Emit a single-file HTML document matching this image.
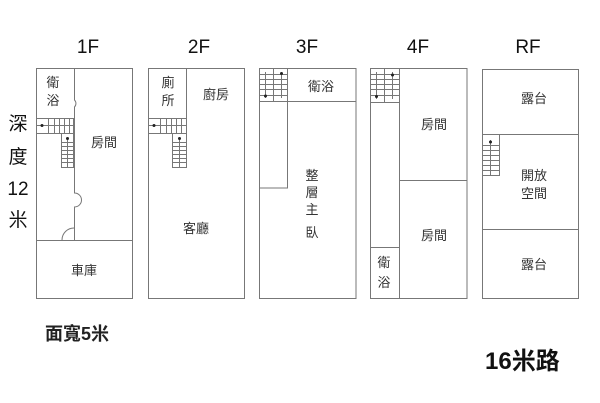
<!DOCTYPE html>
<html><head><meta charset="utf-8"><style>
html,body{margin:0;padding:0;background:#fff;}
svg{display:block;}
text{font-family:"Liberation Sans","Noto Sans CJK TC",sans-serif;fill:#333;}
</style></head><body>
<svg width="600" height="403" viewBox="0 0 600 403" xmlns="http://www.w3.org/2000/svg">
<g fill="none" stroke="#777" stroke-width="1">
<rect x="36.5" y="68.5" width="96" height="230"/>
<line x1="36" y1="240.5" x2="132" y2="240.5"/>
<path d="M74.5 68 V100 A5 5 0 0 1 74.5 107 V193 A7 7 0 0 1 74.5 207 V240"/>
<path d="M62 240 A12 12 0 0 1 74 228"/>
<rect x="36.5" y="118.5" width="37" height="15"/>
<line x1="36" y1="125.5" x2="73" y2="125.5"/>
<path d="M48.5 118V133M54.5 118V133M59.5 118V133M64.5 118V133M69.5 118V133"/>
<rect x="61.5" y="133.5" width="12" height="34"/>
<line x1="67.5" y1="138" x2="67.5" y2="167"/>
<path d="M61 142.5H73M61 146.5H73M61 150.5H73M61 154.5H73M61 158.5H73M61 162.5H73"/>
<rect x="148.5" y="68.5" width="96" height="230"/>
<line x1="186.5" y1="68" x2="186.5" y2="167"/>
<rect x="148.5" y="118.5" width="38" height="15"/>
<line x1="148" y1="125.5" x2="186" y2="125.5"/>
<path d="M160.5 118V133M166.5 118V133M171.5 118V133M176.5 118V133M181.5 118V133"/>
<rect x="172.5" y="133.5" width="14" height="34"/>
<line x1="179.5" y1="138" x2="179.5" y2="167"/>
<path d="M172 142.5H186M172 146.5H186M172 150.5H186M172 154.5H186M172 158.5H186M172 162.5H186"/>
<rect x="259.5" y="68.5" width="96.5" height="230"/>
<line x1="259" y1="101.5" x2="356" y2="101.5"/>
<rect x="259.5" y="68.5" width="28" height="119.5"/>
<line x1="273.5" y1="68" x2="273.5" y2="101"/>
<path d="M259 74.5H287M259 79.5H287M259 84.5H287M259 89.5H287M259 95.5H287"/>
<line x1="265.5" y1="72" x2="265.5" y2="98"/>
<line x1="281.5" y1="72" x2="281.5" y2="98"/>
<rect x="370.5" y="68.5" width="96.5" height="230"/>
<line x1="399.5" y1="68" x2="399.5" y2="298"/>
<line x1="399" y1="180.5" x2="467" y2="180.5"/>
<line x1="370" y1="247.5" x2="399" y2="247.5"/>
<line x1="370" y1="102.5" x2="399" y2="102.5"/>
<line x1="384.5" y1="68" x2="384.5" y2="102"/>
<path d="M370 74.5H399M370 79.5H399M370 84.5H399M370 89.5H399M370 95.5H399"/>
<line x1="376.5" y1="72" x2="376.5" y2="99"/>
<line x1="392.5" y1="72" x2="392.5" y2="99"/>
<rect x="482.5" y="69.5" width="96" height="229"/>
<line x1="482" y1="134.5" x2="578" y2="134.5"/>
<line x1="482" y1="229.5" x2="578" y2="229.5"/>
<rect x="482.5" y="134.5" width="17" height="41"/>
<line x1="490.5" y1="140" x2="490.5" y2="175"/>
<path d="M482 145.5H499M482 150.5H499M482 155.5H499M482 160.5H499M482 165.5H499M482 170.5H499"/>
</g>
<g fill="#222">
<circle cx="42" cy="125.5" r="1.5"/><circle cx="67.5" cy="138.5" r="1.5"/>
<circle cx="154" cy="125.5" r="1.5"/><circle cx="179.5" cy="138.5" r="1.5"/>
<circle cx="265.5" cy="96" r="1.5"/><circle cx="281.5" cy="73.5" r="1.5"/>
<circle cx="376.5" cy="96.5" r="1.5"/><circle cx="392.5" cy="75" r="1.5"/>
<circle cx="490.5" cy="142" r="1.5"/>
</g>
<g font-size="19" text-anchor="middle">
<text x="88" y="53" style="fill:#111">1F</text>
<text x="199" y="53" style="fill:#111">2F</text>
<text x="307" y="53" style="fill:#111">3F</text>
<text x="418" y="53" style="fill:#111">4F</text>
<text x="528" y="53" style="fill:#111">RF</text>
<text x="18" y="130" style="fill:#111">深</text>
<text x="18" y="163" style="fill:#111">度</text>
<text x="18" y="195" style="fill:#111">12</text>
<text x="18" y="226" style="fill:#111">米</text>
</g>
<g font-size="13" text-anchor="middle">
<text x="53" y="87">衛</text><text x="53" y="105">浴</text>
<text x="104" y="147">房間</text>
<text x="84" y="275">車庫</text>
<text x="168" y="87">廁</text><text x="168" y="105">所</text>
<text x="216" y="99">廚房</text>
<text x="196" y="233">客廳</text>
<text x="321" y="91">衛浴</text>
<text x="312" y="180">整</text><text x="312" y="197">層</text><text x="312" y="214">主</text><text x="312" y="237">臥</text>
<text x="434" y="129">房間</text>
<text x="434" y="240">房間</text>
<text x="384" y="267">衛</text><text x="384" y="287">浴</text>
<text x="534" y="103">露台</text>
<text x="534" y="180">開放</text><text x="534" y="198">空間</text>
<text x="534" y="269">露台</text>
</g>
<text x="45" y="340" font-size="18" font-weight="bold" style="fill:#222">面寬5米</text>
<text x="485" y="369" font-size="24" font-weight="bold" style="fill:#111">16米路</text>
</svg>
</body></html>
